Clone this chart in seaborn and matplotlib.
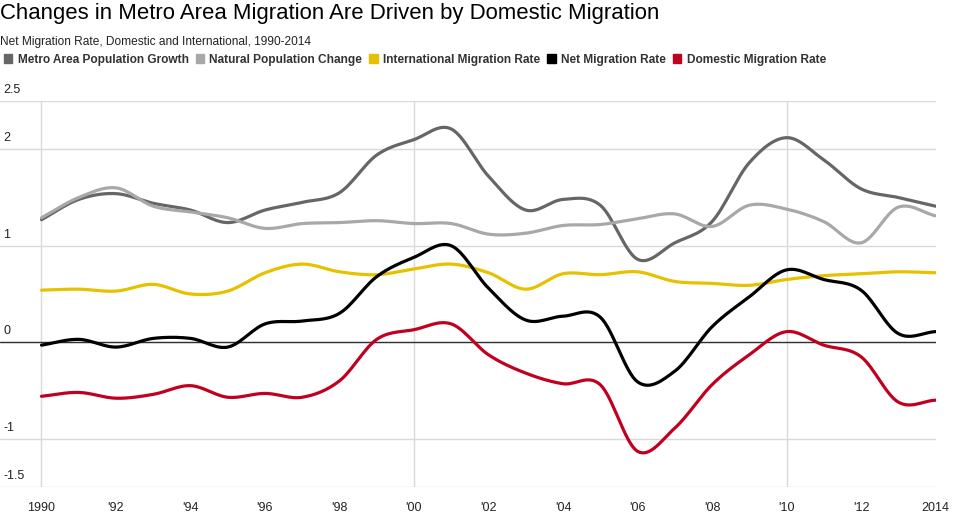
import numpy as np
import pandas as pd
import matplotlib
matplotlib.use("Agg")
import matplotlib.pyplot as plt
import matplotlib.patches as mpatches
import seaborn as sns

# Data (rates, 1990-2014)
years = list(range(1990, 2015))
metro_growth = [1.27, 1.48, 1.54, 1.44, 1.37, 1.24, 1.37, 1.45, 1.55, 1.94, 2.10, 2.21, 1.72,
                1.37, 1.48, 1.42, 0.86, 1.03, 1.25, 1.86, 2.12, 1.89, 1.59, 1.50, 1.41]
natural_change = [1.29, 1.50, 1.60, 1.41, 1.35, 1.29, 1.18, 1.23, 1.24, 1.26, 1.23, 1.23, 1.12,
                  1.13, 1.21, 1.22, 1.28, 1.33, 1.20, 1.42, 1.38, 1.25, 1.03, 1.40, 1.31]
intl_rate = [0.54, 0.55, 0.53, 0.60, 0.50, 0.53, 0.72, 0.81, 0.73, 0.70, 0.76, 0.81, 0.72,
             0.55, 0.71, 0.70, 0.73, 0.63, 0.61, 0.59, 0.65, 0.69, 0.71, 0.73, 0.72]
net_rate = [-0.03, 0.03, -0.05, 0.04, 0.04, -0.05, 0.19, 0.22, 0.30, 0.68, 0.88, 1.00, 0.56,
            0.23, 0.27, 0.26, -0.41, -0.30, 0.16, 0.47, 0.75, 0.65, 0.54, 0.09, 0.11]
domestic_rate = [-0.56, -0.52, -0.58, -0.54, -0.45, -0.57, -0.53, -0.57, -0.40, 0.03, 0.13, 0.19, -0.13,
                 -0.32, -0.43, -0.44, -1.13, -0.89, -0.44, -0.13, 0.11, -0.03, -0.15, -0.62, -0.60]

series_names = ["Metro Area Population Growth", "Natural Population Change",
                "International Migration Rate", "Net Migration Rate", "Domestic Migration Rate"]
series_values = [metro_growth, natural_change, intl_rate, net_rate, domestic_rate]
colors = ["#666666", "#a8a8a8", "#e6c100", "#000000", "#c1001f"]

x_ticks = [1990, 1992, 1994, 1996, 1998, 2000, 2002, 2004, 2006, 2008, 2010, 2012, 2014]
x_labels = ["1990", "'92", "'94", "'96", "'98", "'00", "'02", "'04", "'06", "'08", "'10", "'12", "2014"]
y_ticks = [-1.5, -1, 0, 1, 2, 2.5]
y_labels = ["-1.5", "-1", "0", "1", "2", "2.5"]


def smooth_curve(x, y, steps=16):
    # Catmull-Rom spline through the points, like the original spline chart
    x = np.asarray(x, float)
    y = np.asarray(y, float)
    px = np.concatenate([[2 * x[0] - x[1]], x, [2 * x[-1] - x[-2]]])
    py = np.concatenate([[2 * y[0] - y[1]], y, [2 * y[-1] - y[-2]]])
    xs, ys = [], []
    for i in range(1, len(px) - 2):
        t = np.linspace(0, 1, steps, endpoint=(i == len(px) - 3))
        for arr, out in ((px, xs), (py, ys)):
            p0, p1, p2, p3 = arr[i - 1], arr[i], arr[i + 1], arr[i + 2]
            out.extend(0.5 * (2 * p1 + (-p0 + p2) * t + (2 * p0 - 5 * p1 + 4 * p2 - p3) * t ** 2
                              + (-p0 + 3 * p1 - 3 * p2 + p3) * t ** 3))
    return xs, ys


frames = []
for name, vals in zip(series_names, series_values):
    sx, sy = smooth_curve(years, vals)
    frames.append(pd.DataFrame({"year": sx, "value": sy, "series": name}))
df = pd.concat(frames, ignore_index=True)

sns.set_style("white")
plt.rcParams["font.family"] = ["Liberation Sans", "DejaVu Sans"]

W, H = 962, 527
fig = plt.figure(figsize=(W / 100, H / 100), dpi=100)
ax = fig.add_axes([0, 1 - 487 / H, 936 / W, 386 / H])

# grid
for v in y_ticks:
    ax.axhline(v, color="#d9d9d9", lw=1, zorder=0)
for yr in [1990, 2000, 2010]:
    ax.axvline(yr, color="#d9d9d9", lw=1, zorder=0)
ax.axhline(0, color="#333333", lw=1, zorder=1)

sns.lineplot(data=df, x="year", y="value", hue="series", hue_order=series_names,
             palette=colors, sort=False, estimator=None, lw=2.3, ax=ax, legend=False, zorder=3)

ax.set_xlim(1990 - 41.5 / 37.25, 2014 + 0.5 / 37.25)
ax.set_ylim(-1.5, 2.5)
sns.despine(ax=ax, left=True, bottom=True)
ax.set_xlabel("")
ax.set_ylabel("")
ax.set_yticks([])
ax.set_xticks(x_ticks)
ax.set_xticklabels(x_labels, fontsize=9, color="#222222")
ax.tick_params(axis="x", length=0, pad=11)

for v, lab in zip(y_ticks, y_labels):
    ax.annotate(lab, xy=(0, v), xycoords=("axes fraction", "data"), xytext=(3, 5),
                textcoords="offset pixels", ha="left", va="bottom", fontsize=9, color="#222222")

fig.text(0.0, 1 - 3 / H, "Changes in Metro Area Migration Are Driven by Domestic Migration",
         ha="left", va="top", fontsize=15.9, color="#000000")
fig.text(0.0, 1 - 36 / H, "Net Migration Rate, Domestic and International, 1990-2014",
         ha="left", va="top", fontsize=8.6, color="#222222")

handles = [mpatches.Patch(color=c) for c in colors]
leg = ax.legend(handles, series_names, loc="center left", bbox_to_anchor=(4 / W, 1 - 59.5 / H),
                bbox_transform=fig.transFigure, ncol=5, frameon=False, borderpad=0, borderaxespad=0,
                handlelength=0.7, handleheight=0.7, handletextpad=0.45, columnspacing=0.6,
                prop={"weight": "bold", "size": 8.55})
for t in leg.get_texts():
    t.set_color("#333333")

fig.savefig("out.png", dpi=100)
